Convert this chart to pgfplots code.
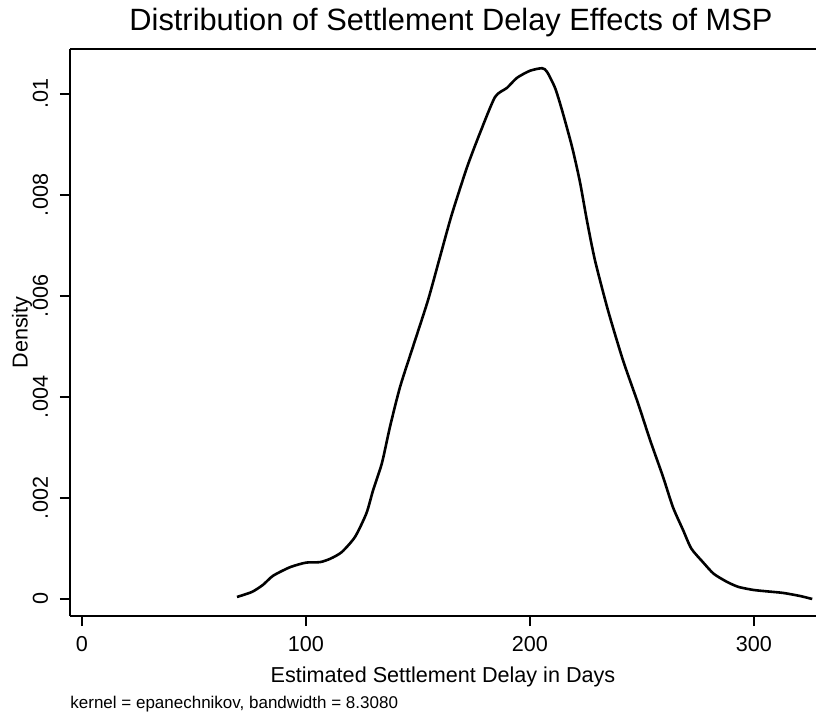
\documentclass[border=0pt]{standalone}
\usepackage{fontspec}
\setmainfont{Liberation Sans}
\usepackage{pgfplots}
\pgfplotsset{compat=1.18}
\begin{document}
\begin{tikzpicture}
\begin{axis}[
  name=ax,
  scale only axis,
  width=373pt, height=283.5pt,
  xmin=-5.36, xmax=327.7,
  ymin=-0.000337, ymax=0.010891,
  axis lines*=left,
  axis line style={line width=1pt},
  xtick={0,100,200,300},
  xticklabels={0,100,200,300},
  ytick={0,0.002,0.004,0.006,0.008,0.01},
  yticklabels={0,.002,.004,.006,.008,.01},
  scaled y ticks=false,
  tick align=outside,
  major tick length=5pt,
  tick style={line width=0.8pt, black},
  /pgf/number format/assume math mode=true,
  ticklabel style={font=\fontsize{10.8}{12}\selectfont},
  xticklabel style={anchor=north, inner sep=0pt, yshift=-5pt},
  yticklabel style={rotate=90, anchor=base, inner sep=0pt, yshift=6pt},
  title={Distribution of Settlement Delay Effects of MSP},
  title style={at={(0.5,1)}, anchor=center, yshift=7pt, xshift=4pt, font=\fontsize{15.4}{18}\selectfont},
  xlabel={Estimated Settlement Delay in Days},
  xlabel style={at={(0.5,0)}, anchor=center, yshift=-30.5pt, font=\fontsize{10.8}{12}\selectfont},
  ylabel={Density},
  ylabel style={at={(0,0.5)}, anchor=center, yshift=24pt, font=\fontsize{10.8}{12}\selectfont},
  clip=false,
]
\addplot[black, line width=1.3pt, smooth, tension=0.4] coordinates {
(69.2,0.00004) (75.9,0.00014) (80.8,0.00028) (85.3,0.00046) (92.9,0.00063)
(100,0.00072) (106.3,0.00073) (111,0.00080) (116,0.00093) (121.9,0.00123)
(127,0.0017) (130,0.00216) (133.9,0.00269) (137.5,0.00341) (142,0.0042)
(147.8,0.005) (154.5,0.00592) (159.8,0.00677) (165,0.0076) (171.9,0.00855)
(177.7,0.00923) (184.4,0.00994) (189.7,0.01012) (194.2,0.01032) (200,0.01046)
(205.4,0.01051) (207.6,0.01044) (211.2,0.01012) (214.3,0.00968) (218.8,0.00895)
(222.3,0.00826) (225.4,0.0075) (229,0.00671) (234.8,0.00572) (241.5,0.00473)
(248.2,0.00388) (253.6,0.00315) (259.4,0.00242) (263.8,0.00182) (268.3,0.00137)
(272,0.00100) (277.2,0.00073) (282,0.00050) (287.9,0.00034) (293,0.00024)
(299.6,0.00018) (306,0.00015) (313,0.00012) (320.5,0.00006) (326,0.0)
};
\draw[line width=1pt] (rel axis cs:0,1) -- (rel axis cs:1,1);
\node[anchor=west, inner sep=0pt, font=\fontsize{8.5}{10}\selectfont] at ([yshift=-44pt]rel axis cs:0,0) {kernel = epanechnikov, bandwidth = 8.3080};
\end{axis}
\pgfresetboundingbox
\path ([xshift=-35pt,yshift=-52.5pt]ax.south west) rectangle ([xshift=0.5pt,yshift=24.5pt]ax.north east);
\end{tikzpicture}
\end{document}
